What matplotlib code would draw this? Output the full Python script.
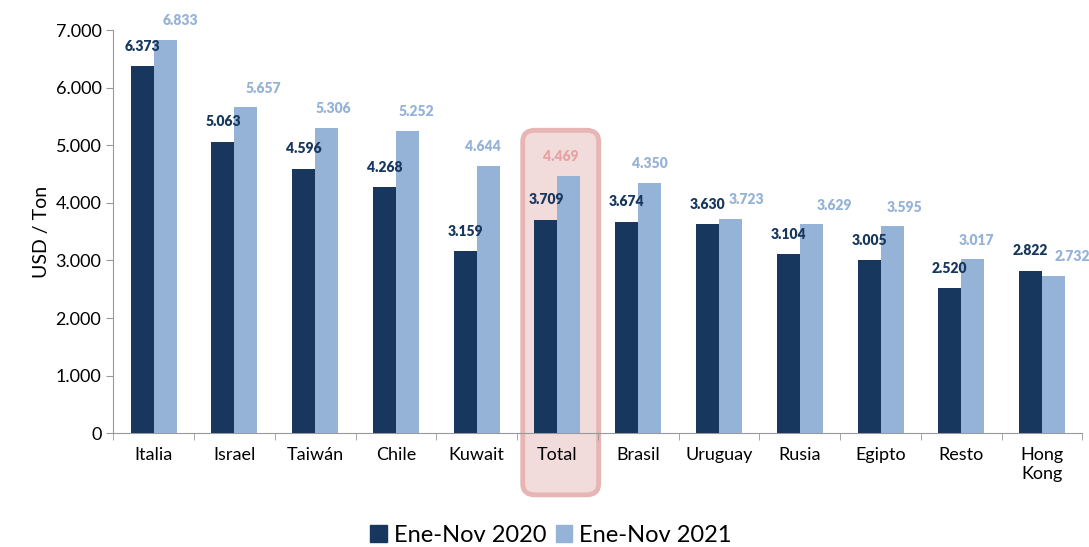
import numpy as np
import matplotlib.pyplot as plt
from matplotlib.patches import FancyBboxPatch, Patch
from matplotlib.ticker import FuncFormatter

plt.rcParams['font.family'] = ['Lato', 'DejaVu Sans']

categories = ['Italia', 'Israel', 'Taiwán', 'Chile', 'Kuwait', 'Total', 'Brasil',
              'Uruguay', 'Rusia', 'Egipto', 'Resto', 'Hong\nKong']
v2020 = [6373, 5063, 4596, 4268, 3159, 3709, 3674, 3630, 3104, 3005, 2520, 2822]
v2021 = [6833, 5657, 5306, 5252, 4644, 4469, 4350, 3723, 3629, 3595, 3017, 2732]
# horizontal nudge of the 2021 labels (pixels), as placed in the original
label_dx = [15, 17, 7, 9, -5, -8, 0, 16, 23, 12, 4, 19]

dark = '#17375e'
light = '#95b3d7'
pink = '#e6a3a3'

fig = plt.figure(figsize=(10.89, 5.47), dpi=100)
ax = fig.add_axes([0.104, 0.208, 0.890, 0.737])

x = np.arange(len(categories))
w = 0.285
ax.bar(x - w / 2, v2020, w, color=dark, zorder=3)
ax.bar(x + w / 2, v2021, w, color=light, zorder=3)

fmt = lambda v: f'{v:,}'.replace(',', '.')
for i, (a, b) in enumerate(zip(v2020, v2021)):
    ax.annotate(fmt(a), (x[i] - w / 2, a), xytext=(0, 20), textcoords='offset pixels',
                ha='center', va='center', fontsize=10, fontweight='heavy', color=dark, zorder=4)
    col = pink if categories[i] == 'Total' else light
    ax.annotate(fmt(b), (x[i] + w / 2, b), xytext=(label_dx[i], 19), textcoords='offset pixels',
                ha='center', va='center', fontsize=10, fontweight='heavy', color=col, zorder=4)

# highlight box around Total
ti = categories.index('Total')
box = FancyBboxPatch((ti - 0.43, -1070), 0.94, 6330,
                     boxstyle='round,pad=0,rounding_size=0.15', mutation_aspect=1300,
                     facecolor='#f2dcdb', edgecolor='#e6b5b4', linewidth=3.5,
                     clip_on=False, zorder=1)
ax.add_patch(box)

ax.set_xlim(-0.5, len(categories) - 0.5)
ax.set_ylim(0, 7000)
ax.set_yticks(np.arange(0, 7001, 1000))
ax.yaxis.set_major_formatter(FuncFormatter(lambda v, p: fmt(int(v))))
ax.set_xticks(x)
ax.set_xticklabels(categories, fontsize=13)
ax.set_xticks(np.arange(-0.5, len(categories)), minor=True)
ax.tick_params(axis='x', which='major', length=0, pad=10)
ax.tick_params(axis='x', which='minor', length=5, color='#999999')
ax.tick_params(axis='y', labelsize=13, length=5, color='#999999')
ax.set_ylabel('USD / Ton', fontsize=14)

for s in ['top', 'right']:
    ax.spines[s].set_visible(False)
for s in ['left', 'bottom']:
    ax.spines[s].set_color('#999999')

handles = [Patch(color=dark, label='Ene-Nov 2020'), Patch(color=light, label='Ene-Nov 2021')]
fig.legend(handles=handles, loc='lower center', bbox_to_anchor=(0.506, -0.037), ncol=2,
           frameon=False, fontsize=17, handlelength=0.7, handleheight=0.7,
           handletextpad=0.3, columnspacing=0.4)

fig.savefig('out.png', dpi=100)
